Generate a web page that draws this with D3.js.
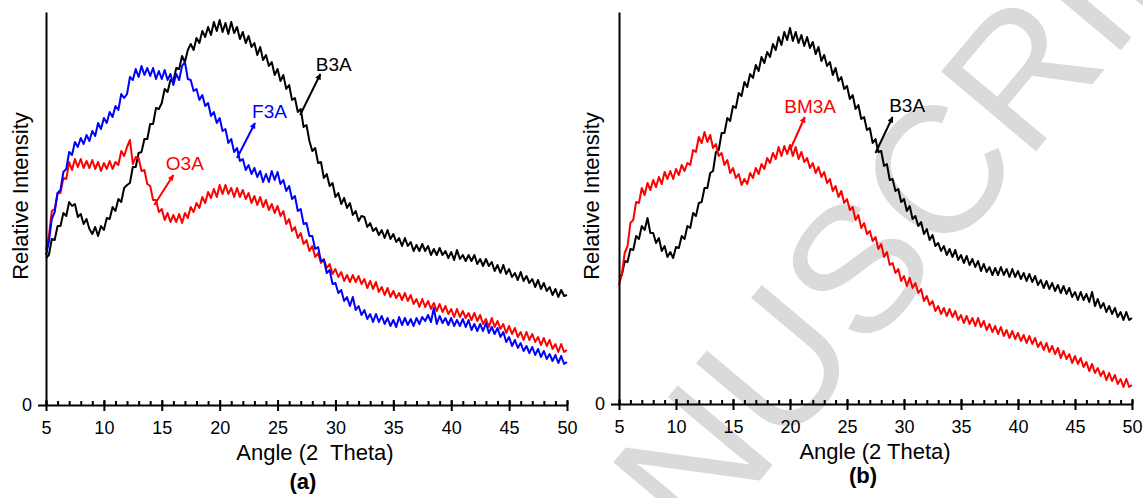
<!DOCTYPE html>
<html>
<head>
<meta charset="utf-8">
<script src="https://cdn.jsdelivr.net/npm/d3@7"></script>
<style>
  body { margin: 0; background: #fff; }
  svg { display: block; font-family: "Liberation Sans", Arial, sans-serif; }
  .axis path, .axis line { stroke: #000; stroke-width: 2; }
  .axis text { font-size: 18px; fill: #000; }
  .trace { fill: none; stroke-width: 2; stroke-linejoin: round; }
</style>
</head>
<body>
<div id="chart"></div>
<script>
// XRD patterns, intensity in arbitrary units, sampled every 0.25 deg from 5 to 50
const angleStart = 5, angleEnd = 50, angleStep = 0.25;
const xTicks = [5, 10, 15, 20, 25, 30, 35, 40, 45, 50];

const a_B3A = [
  147,150,166,165, 179,179,192,189, 203,199,201,188, 191,181,186,176, 171,178,169,179,
  175,187,186,198, 194,206,203,217, 220,222,238,238, 252,253,266,266, 281,281,297,296,
  302,316,313,325, 324,337,336,349, 343,355,361,355, 367,362,374,368, 378,370,383,374,
  385,373,382,371, 383,372,378,366, 373,362,369,358, 362,350,358,345, 350,339,343,330,
  336,324,330,316, 320,305,307,293, 296,278,280,264, 254,257,242,243, 227,231,219,222,
  208,212,201,207, 197,202,190,194, 184,189,188,178, 182,174,177,170, 175,167,175,166,
  171,163,167,159, 167,159,163,154, 160,154,161,154, 159,150,156,150, 157,150,154,147,
  153,145,155,146, 150,144,150,144, 150,141,146,139, 146,139,143,134, 140,132,140,131,
  136,128,132,125, 133,124,129,122, 126,118,125,116, 122,114,118,110, 116,108,115,109,
  110
];
const a_F3A = [
  150,163,186,193, 212,215,233,236, 253,250,263,258, 267,261,270,264, 274,269,282,276,
  287,282,293,288, 299,295,311,307, 311,328,325,336, 328,339,330,337, 329,337,326,334,
  326,335,325,331, 320,331,325,339, 343,326,325,314, 316,305,310,299, 302,289,293,282,
  287,274,276,262, 266,253,257,244, 246,235,240,231, 237,228,234,223, 231,223,234,225,
  233,221,225,214, 219,206,209,194, 196,181,182,169, 169,156,158,144, 145,132,135,121,
  122,112,115,104, 108,99,108,95, 99,90,95,86, 91,83,91,83, 89,81,87,79,
  85,78,88,80, 87,80,86,79, 87,81,88,84, 90,83,97,81, 89,82,87,80,
  87,79,85,79, 86,78,85,75, 81,74,81,74, 82,72,78,71, 77,68,73,63,
  68,59,65,57, 62,54,59,52, 58,50,56,48, 54,46,51,44, 50,42,49,41,
  43
];
const a_O3A = [
  155,169,194,196, 212,212,227,226, 243,235,246,238, 246,237,244,237, 245,236,243,234,
  242,236,244,236, 243,240,254,249, 258,265,241,248, 247,234,235,221, 219,205,205,193,
  196,185,192,183, 190,183,191,182, 192,187,198,193, 202,197,208,202, 213,207,216,208,
  220,211,220,211, 217,208,217,208, 215,206,212,202, 209,200,208,198, 205,195,201,192,
  199,189,194,181, 186,174,178,167, 172,161,165,154, 159,148,152,142, 146,137,141,131,
  136,128,133,124, 130,123,130,123, 129,121,126,117, 124,116,123,113, 118,110,117,108,
  114,107,112,105, 112,104,110,101, 106,98,106,98, 104,96,102,94, 101,93,99,91,
  96,88,96,88, 94,87,92,85, 92,84,90,81, 86,78,87,78, 84,76,81,72,
  79,71,77,68, 73,65,73,65, 71,63,68,60, 67,59,65,56, 61,53,61,53,
  55
];
const b_B3A = [
  127,129,143,142, 155,154,168,165, 178,174,186,171, 171,161,166,153, 158,147,152,146,
  157,156,168,165, 178,176,191,188, 201,202,216,216, 231,233,252,254, 271,271,286,283,
  298,296,311,308, 322,317,330,326, 339,333,347,341, 352,347,360,354, 367,359,372,364,
  376,363,372,361, 369,358,367,356, 362,350,357,343, 349,338,342,329, 336,323,327,315,
  318,305,309,295, 299,285,287,274, 276,261,265,252, 253,238,240,224, 225,213,215,202,
  205,193,198,185, 188,178,182,170, 175,164,169,158, 161,153,158,149, 155,147,154,144,
  149,141,148,139, 145,137,143,133, 140,132,137,129, 136,129,137,129, 135,127,135,127,
  133,125,131,123, 130,122,128,119, 124,116,123,115, 121,113,119,111, 118,110,116,107,
  112,104,112,104, 110,102,112,98, 105,96,101,92, 98,90,96,87, 92,84,92,84,
  86
];
const b_BM3A = [
  119,130,151,158, 181,184,202,201, 216,209,221,214, 224,217,227,220, 232,225,233,225,
  235,229,239,233, 241,239,254,252, 267,261,272,262, 269,256,260,248, 251,239,244,231,
  236,226,230,219, 225,220,231,226, 236,230,240,235, 246,241,251,245, 257,248,258,250,
  259,248,257,245, 252,242,246,236, 241,231,237,227, 232,221,225,213, 218,207,213,201,
  205,194,197,184, 189,176,181,170, 173,163,167,155, 160,147,152,139, 141,131,135,123,
  128,118,126,116, 121,111,115,103, 108,99,103,93, 98,90,96,88, 95,87,93,84,
  89,81,88,80, 86,78,86,77, 83,74,80,72, 78,70,77,68, 74,66,73,65,
  71,63,69,61, 68,60,66,57, 62,54,61,52, 58,50,56,46, 53,45,50,41,
  48,40,46,37, 42,33,40,31, 36,28,33,24, 31,23,29,20, 25,17,25,17,
  19
];

const angles = d3.range(0, a_B3A.length).map(i => angleStart + i * angleStep);

const W = 1143, H = 498;
const svg = d3.select("#chart").append("svg")
  .attr("width", W)
  .attr("height", H);

// arrow heads
const defs = svg.append("defs");
["#000000", "#0000ff", "#ff0000"].forEach(function (c, i) {
  defs.append("marker")
    .attr("id", "arr" + i)
    .attr("viewBox", "0 0 10 10")
    .attr("refX", 9).attr("refY", 5)
    .attr("markerWidth", 7).attr("markerHeight", 6)
    .attr("markerUnits", "userSpaceOnUse")
    .attr("orient", "auto")
    .append("path")
    .attr("d", "M0,0L10,5L0,10z")
    .attr("fill", c);
});

// watermark, behind everything
svg.append("text")
  .attr("transform", "translate(525,760) rotate(-50)")
  .attr("font-size", 180)
  .attr("fill", "#dadada")
  .text("MANUSCRIPT");

function panel(opts) {
  const x = d3.scaleLinear().domain([angleStart, angleEnd]).range(opts.xRange);
  const y = d3.scaleLinear().domain([0, opts.yMax]).range([opts.y0, 12]);
  const g = svg.append("g");

  const line = d3.line()
    .x((d, i) => x(angles[i]))
    .y(d => y(d));

  opts.series.forEach(function (s) {
    g.append("path")
      .attr("class", "trace")
      .attr("stroke", s.color)
      .attr("d", line(s.values));
  });

  // minor + major ticks pointing up into the plot
  g.append("g")
    .attr("class", "axis")
    .attr("transform", "translate(0," + opts.y0 + ")")
    .call(d3.axisTop(x).tickValues(d3.range(5, 51, 1)).tickSize(4).tickSizeOuter(0).tickFormat(""))
    .call(a => a.select(".domain").remove());
  g.append("g")
    .attr("class", "axis")
    .attr("transform", "translate(0," + opts.y0 + ")")
    .call(d3.axisTop(x).tickValues(xTicks).tickSize(5).tickSizeOuter(0).tickFormat(""))
    .call(a => a.select(".domain").remove());
  g.append("g")
    .attr("class", "axis")
    .attr("transform", "translate(0," + opts.y0 + ")")
    .call(d3.axisBottom(x).tickValues(xTicks).tickSize(6).tickSizeOuter(0))
    .call(a => a.selectAll("text").attr("y", 29).attr("dy", 0));

  g.append("g")
    .attr("class", "axis")
    .attr("transform", "translate(" + opts.xRange[0] + ",0)")
    .call(d3.axisLeft(y).tickValues([0]).tickSize(8).tickSizeOuter(0).tickPadding(6));

  g.append("text")
    .attr("x", opts.xLabelX).attr("y", opts.y0 + 55)
    .attr("text-anchor", "middle")
    .attr("font-size", 22)
    .style("white-space", "pre")
    .text(opts.xLabel);

  g.append("text")
    .attr("transform", "translate(" + opts.yLabelX + ",196) rotate(-90)")
    .attr("text-anchor", "middle")
    .attr("font-size", 22)
    .text("Relative Intensity");

  g.append("text")
    .attr("x", opts.tagX).attr("y", opts.tagY)
    .attr("text-anchor", "middle")
    .attr("font-size", 22)
    .attr("font-weight", "bold")
    .text(opts.tag);

  // labels with arrows: [angle, value] at the tail, label anchored near the head
  opts.notes.forEach(function (n) {
    g.append("line")
      .attr("x1", x(n.from[0])).attr("y1", y(n.from[1]))
      .attr("x2", x(n.to[0])).attr("y2", y(n.to[1]))
      .attr("stroke", n.color)
      .attr("stroke-width", 2)
      .attr("marker-end", "url(#arr" + n.marker + ")");
    g.append("text")
      .attr("x", x(n.text[0])).attr("y", y(n.text[1]))
      .attr("font-size", 19)
      .attr("fill", n.color)
      .text(n.label);
  });
}

panel({
  xRange: [46, 567], y0: 405, yMax: 393,
  xLabel: "Angle (2  Theta)", xLabelX: 315, yLabelX: 28,
  tag: "(a)", tagX: 303, tagY: 489,
  series: [
    { values: a_B3A, color: "#000000" },
    { values: a_O3A, color: "#ff0000" },
    { values: a_F3A, color: "#0000ff" }
  ],
  notes: [
    { label: "B3A", color: "#000000", marker: 0, from: [26.95, 290], to: [28.7, 331], text: [28.3, 334] },
    { label: "F3A", color: "#0000ff", marker: 1, from: [21.5, 247], to: [23.05, 282], text: [22.8, 287] },
    { label: "O3A", color: "#ff0000", marker: 2, from: [14.35, 200], to: [16.0, 230], text: [15.35, 235] }
  ]
});

panel({
  xRange: [619, 1132], y0: 404, yMax: 392,
  xLabel: "Angle (2 Theta)", xLabelX: 875, yLabelX: 599,
  tag: "(b)", tagX: 863, tagY: 483,
  series: [
    { values: b_B3A, color: "#000000" },
    { values: b_BM3A, color: "#ff0000" }
  ],
  notes: [
    { label: "B3A", color: "#000000", marker: 0, from: [27.5, 251], to: [29.0, 287], text: [28.7, 292] },
    { label: "BM3A", color: "#ff0000", marker: 2, from: [20.0, 254], to: [21.3, 287], text: [19.5, 291] }
  ]
});
</script>
</body>
</html>
